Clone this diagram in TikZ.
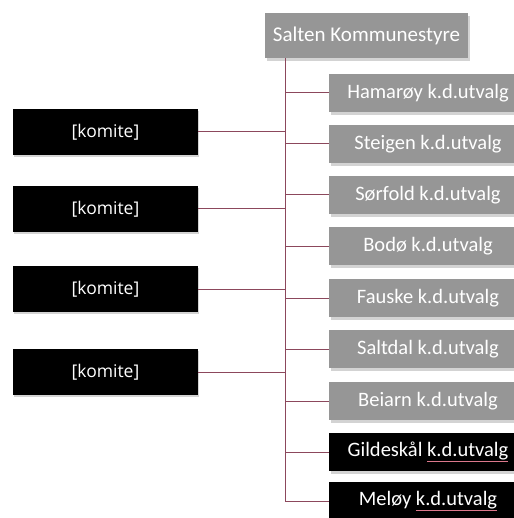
\documentclass[tikz,border=0pt]{standalone}
\usepackage{fontspec}
\setmainfont{Carlito}
\newfontfamily\komitefont{Open Sans}
\usetikzlibrary{shadows}
\definecolor{linkred}{RGB}{140,72,92}
\definecolor{boxgray}{RGB}{150,150,150}
\definecolor{spellred}{RGB}{220,120,140}
\newcommand{\kdu}{{\color{spellred}\underline{\color{white}k.d.utvalg}}}
\tikzset{
	kdbox/.style={fill=boxgray, text=white, minimum width=198, minimum height=38, inner sep=0pt,
		drop shadow={shadow xshift=2pt, shadow yshift=-3pt, opacity=0.35}, font=\fontsize{20.5}{24}\selectfont},
	kdblack/.style={kdbox, fill=black},
	komitebox/.style={fill=black, text=white, minimum width=185, minimum height=46, inner sep=0pt,
		drop shadow={shadow xshift=1pt, shadow yshift=-2pt, opacity=0.35}, font=\komitefont\fontsize{17.5}{21}\selectfont},
	topbox/.style={kdbox, minimum width=203, minimum height=45, font=\fontsize{21}{25}\selectfont},
	link/.style={draw=linkred, line width=1pt},
}
\begin{document}
\begin{tikzpicture}[x=1pt, y=-1pt]
			%%%%% START %%%%%
			\useasboundingbox (0, 0) rectangle (513, 518);
			
			\node[topbox] (kommunestyre) at (366.5, 35.5) {Salten Kommunestyre};
			
			\node[kdbox] (hamaroy) at (428, 93) {Hamarøy k.d.utvalg};
			\node[kdbox] (steigen) at (428, 144) {Steigen k.d.utvalg};
			\node[kdbox] (sorfold) at (428, 195) {Sørfold k.d.utvalg};
			\node[kdbox] (bodo) at (428, 246) {Bodø k.d.utvalg};
			\node[kdbox] (fauske) at (428, 298) {Fauske k.d.utvalg};
			\node[kdbox] (saltdal) at (428, 349) {Saltdal k.d.utvalg};
			\node[kdbox] (beiarn) at (428, 401) {Beiarn k.d.utvalg};
			\node[kdblack] (gildeskal) at (428, 452) {Gildeskål \kdu};
			\node[kdblack] (meloy) at (428, 501) {Meløy \kdu};
			
			\node[komitebox] (komiteA) at (105.5, 132) {[komite]};
			\node[komitebox] (komiteB) at (105.5, 209) {[komite]};
			\node[komitebox] (komiteC) at (105.5, 289) {[komite]};
			\node[komitebox] (komiteD) at (105.5, 372) {[komite]};
			
			% trunk
			\coordinate (trunktop) at (285, 58);
			\coordinate (trunkbot) at (285, 501);
			\draw[link] (trunktop) -- (trunkbot);
			
			% branches to the right
			\draw[link] (trunkbot |- hamaroy.west) -- (hamaroy.west);
			\draw[link] (trunkbot |- steigen.west) -- (steigen.west);
			\draw[link] (trunkbot |- sorfold.west) -- (sorfold.west);
			\draw[link] (trunkbot |- bodo.west) -- (bodo.west);
			\draw[link] (trunkbot |- fauske.west) -- (fauske.west);
			\draw[link] (trunkbot |- saltdal.west) -- (saltdal.west);
			\draw[link] (trunkbot |- beiarn.west) -- (beiarn.west);
			\draw[link] (trunkbot |- gildeskal.west) -- (gildeskal.west);
			\draw[link] (trunkbot) -- (meloy.west);
			
			% branches to the left
			\draw[link] (komiteA.east) -- (trunkbot |- komiteA.east);
			\draw[link] (komiteB.east) -- (trunkbot |- komiteB.east);
			\draw[link] (komiteC.east) -- (trunkbot |- komiteC.east);
			\draw[link] (komiteD.east) -- (trunkbot |- komiteD.east);
			%%%%% END %%%%%
\end{tikzpicture}
\end{document}
